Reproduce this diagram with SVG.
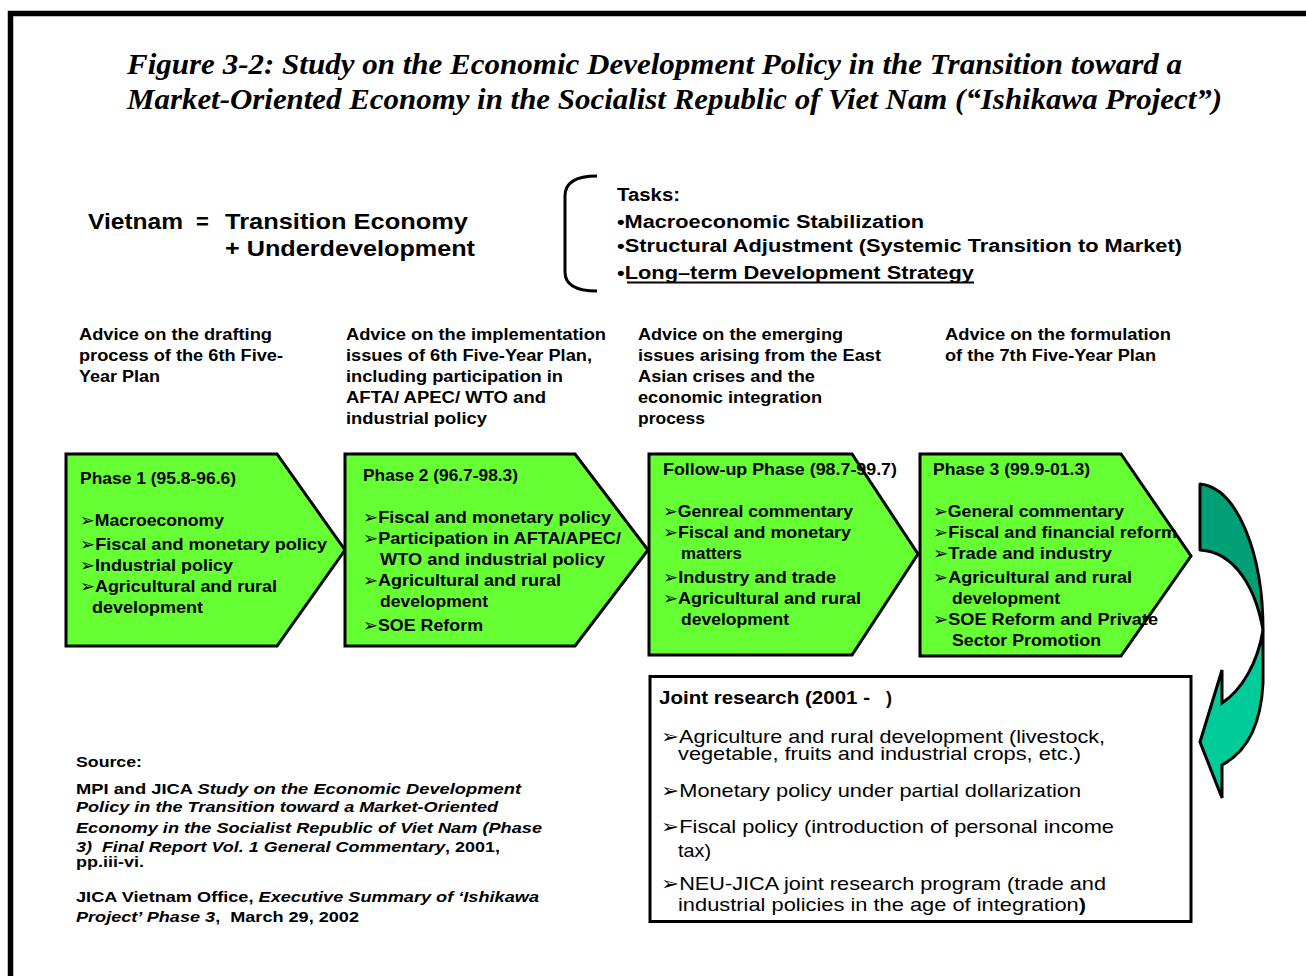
<svg xmlns="http://www.w3.org/2000/svg" width="1306" height="976" viewBox="0 0 1306 976">
<style>
text{font-family:"Liberation Sans",Arial,"DejaVu Sans",sans-serif;fill:#000}
.title{font-family:"Liberation Serif","Times New Roman",serif;font-weight:bold;font-style:italic;font-size:29px}
.b{font-weight:bold}
.adv{font-weight:bold;font-size:16px}
.ph{font-weight:bold;font-size:17px}
.jr{font-size:19px}
.src{font-weight:bold;font-size:15.5px}
.it{font-style:italic}
.phase{fill:#66FF33;stroke:#000;stroke-width:3;stroke-linejoin:miter}
</style>
<rect width="1306" height="976" fill="#fff"/>
<path d="M10.5,976 V13.5 H1306" fill="none" stroke="#000" stroke-width="5.5"/>

<g id="title">
<text class="title" x="127" y="74" textLength="1055" lengthAdjust="spacingAndGlyphs">Figure 3-2: Study on the Economic Development Policy in the Transition toward a</text>
<text class="title" x="127" y="109" textLength="1095" lengthAdjust="spacingAndGlyphs">Market-Oriented Economy in the Socialist Republic of Viet Nam (“Ishikawa Project”)</text>
</g>

<g id="vietnam">
<text class="b" font-size="22" x="88" y="229" textLength="95" lengthAdjust="spacingAndGlyphs">Vietnam</text>
<text class="b" font-size="22" x="196" y="229">=</text>
<text class="b" font-size="22" x="225" y="229" textLength="243" lengthAdjust="spacingAndGlyphs">Transition Economy</text>
<text class="b" font-size="22" x="225" y="256" textLength="250" lengthAdjust="spacingAndGlyphs">+ Underdevelopment</text>
</g>

<g id="tasks">
<path d="M597,176 Q565,176 565,196 V272 Q565,291 597,291" fill="none" stroke="#000" stroke-width="3"/>
<text class="b" font-size="18" x="617" y="201" textLength="63" lengthAdjust="spacingAndGlyphs">Tasks:</text>
<text class="b" font-size="18" x="617" y="228" textLength="307" lengthAdjust="spacingAndGlyphs">•Macroeconomic Stabilization</text>
<text class="b" font-size="18" x="617" y="252" textLength="565" lengthAdjust="spacingAndGlyphs">•Structural Adjustment (Systemic Transition to Market)</text>
<text class="b" font-size="18" x="617" y="279" textLength="357" lengthAdjust="spacingAndGlyphs">•Long–term Development Strategy</text>
<line x1="627" y1="282.5" x2="974" y2="282.5" stroke="#000" stroke-width="2"/>
</g>

<g id="advice1">
<text class="adv" x="79" y="340" textLength="193" lengthAdjust="spacingAndGlyphs">Advice on the drafting</text>
<text class="adv" x="79" y="361" textLength="204" lengthAdjust="spacingAndGlyphs">process of the 6th Five-</text>
<text class="adv" x="79" y="382" textLength="81" lengthAdjust="spacingAndGlyphs">Year Plan</text>
</g>
<g id="advice2">
<text class="adv" x="346" y="340" textLength="260" lengthAdjust="spacingAndGlyphs">Advice on the implementation</text>
<text class="adv" x="346" y="361" textLength="246" lengthAdjust="spacingAndGlyphs">issues of 6th Five-Year Plan,</text>
<text class="adv" x="346" y="382" textLength="217" lengthAdjust="spacingAndGlyphs">including participation in</text>
<text class="adv" x="346" y="403" textLength="200" lengthAdjust="spacingAndGlyphs">AFTA/ APEC/ WTO and</text>
<text class="adv" x="346" y="424" textLength="141" lengthAdjust="spacingAndGlyphs">industrial policy</text>
</g>
<g id="advice3">
<text class="adv" x="638" y="340" textLength="205" lengthAdjust="spacingAndGlyphs">Advice on the emerging</text>
<text class="adv" x="638" y="361" textLength="243" lengthAdjust="spacingAndGlyphs">issues arising from the East</text>
<text class="adv" x="638" y="382" textLength="177" lengthAdjust="spacingAndGlyphs">Asian crises and the</text>
<text class="adv" x="638" y="403" textLength="184" lengthAdjust="spacingAndGlyphs">economic integration</text>
<text class="adv" x="638" y="424" textLength="67" lengthAdjust="spacingAndGlyphs">process</text>
</g>
<g id="advice4">
<text class="adv" x="945" y="340" textLength="226" lengthAdjust="spacingAndGlyphs">Advice on the formulation</text>
<text class="adv" x="945" y="361" textLength="211" lengthAdjust="spacingAndGlyphs">of the 7th Five-Year Plan</text>
</g>

<g id="phase1">
<polygon class="phase" points="66,454 277,454 345,550 277,646 66,646"/>
<text class="ph" x="80" y="484" textLength="156" lengthAdjust="spacingAndGlyphs">Phase 1 (95.8-96.6)</text>
<text class="ph" x="80" y="526" textLength="144" lengthAdjust="spacingAndGlyphs">➢Macroeconomy</text>
<text class="ph" x="80" y="550" textLength="247" lengthAdjust="spacingAndGlyphs">➢Fiscal and monetary policy</text>
<text class="ph" x="80" y="571" textLength="153" lengthAdjust="spacingAndGlyphs">➢Industrial policy</text>
<text class="ph" x="80" y="592" textLength="197" lengthAdjust="spacingAndGlyphs">➢Agricultural and rural</text>
<text class="ph" x="92" y="613" textLength="111" lengthAdjust="spacingAndGlyphs">development</text>
</g>

<g id="phase2">
<polygon class="phase" points="345,454 575,454 648,550 575,646 345,646"/>
<text class="ph" x="363" y="481" textLength="155" lengthAdjust="spacingAndGlyphs">Phase 2 (96.7-98.3)</text>
<text class="ph" x="363" y="523" textLength="248" lengthAdjust="spacingAndGlyphs">➢Fiscal and monetary policy</text>
<text class="ph" x="363" y="544" textLength="258" lengthAdjust="spacingAndGlyphs">➢Participation in AFTA/APEC/</text>
<text class="ph" x="380" y="565" textLength="225" lengthAdjust="spacingAndGlyphs">WTO and industrial policy</text>
<text class="ph" x="363" y="586" textLength="198" lengthAdjust="spacingAndGlyphs">➢Agricultural and rural</text>
<text class="ph" x="380" y="607" textLength="108" lengthAdjust="spacingAndGlyphs">development</text>
<text class="ph" x="363" y="631" textLength="120" lengthAdjust="spacingAndGlyphs">➢SOE Reform</text>
</g>

<g id="followup">
<polygon class="phase" points="649,454 852,454 918,554 852,655 649,655"/>
<text class="ph" x="663" y="475" textLength="234" lengthAdjust="spacingAndGlyphs">Follow-up Phase (98.7-99.7)</text>
<text class="ph" x="663" y="517" textLength="190" lengthAdjust="spacingAndGlyphs">➢Genreal commentary</text>
<text class="ph" x="663" y="538" textLength="188" lengthAdjust="spacingAndGlyphs">➢Fiscal and monetary</text>
<text class="ph" x="681" y="559" textLength="61" lengthAdjust="spacingAndGlyphs">matters</text>
<text class="ph" x="663" y="583" textLength="173" lengthAdjust="spacingAndGlyphs">➢Industry and trade</text>
<text class="ph" x="663" y="604" textLength="198" lengthAdjust="spacingAndGlyphs">➢Agricultural and rural</text>
<text class="ph" x="681" y="625" textLength="108" lengthAdjust="spacingAndGlyphs">development</text>
</g>

<g id="phase3">
<polygon class="phase" points="920,454 1121,454 1191,556 1121,656 920,656"/>
<text class="ph" x="933" y="475" textLength="157" lengthAdjust="spacingAndGlyphs">Phase 3 (99.9-01.3)</text>
<text class="ph" x="933" y="517" textLength="191" lengthAdjust="spacingAndGlyphs">➢General commentary</text>
<text class="ph" x="933" y="538" textLength="244" lengthAdjust="spacingAndGlyphs">➢Fiscal and financial reform</text>
<text class="ph" x="933" y="559" textLength="179" lengthAdjust="spacingAndGlyphs">➢Trade and industry</text>
<text class="ph" x="933" y="583" textLength="199" lengthAdjust="spacingAndGlyphs">➢Agricultural and rural</text>
<text class="ph" x="952" y="604" textLength="108" lengthAdjust="spacingAndGlyphs">development</text>
<text class="ph" x="933" y="625" textLength="225" lengthAdjust="spacingAndGlyphs">➢SOE Reform and Private</text>
<text class="ph" x="952" y="646" textLength="149" lengthAdjust="spacingAndGlyphs">Sector Promotion</text>
</g>

<g id="connectors">
<path d="M1200,484 C1238,488 1263,555 1263,630 C1256,590 1236,552 1200,550 Z" fill="#00A077" stroke="#000" stroke-width="3" stroke-linejoin="round"/>
<path d="M1263,630 L1263,683 Q1260,745 1222,765 L1222,798 L1200,742 L1222,670 L1222,703 C1242,690 1258,662 1263,630 Z" fill="#00CC99" stroke="#000" stroke-width="3" stroke-linejoin="miter"/>
</g>

<g id="joint">
<rect x="650" y="676.5" width="541" height="245" fill="#fff" stroke="#000" stroke-width="3"/>
<text class="b" font-size="18" x="659" y="704" textLength="211" lengthAdjust="spacingAndGlyphs">Joint research (2001 -</text>
<text class="b" font-size="18" x="886" y="704">)</text>
<text class="jr" x="661" y="743" textLength="444" lengthAdjust="spacingAndGlyphs">➢Agriculture and rural development (livestock,</text>
<text class="jr" x="678" y="760" textLength="403" lengthAdjust="spacingAndGlyphs">vegetable, fruits and industrial crops, etc.)</text>
<text class="jr" x="661" y="797" textLength="420" lengthAdjust="spacingAndGlyphs">➢Monetary policy under partial dollarization</text>
<text class="jr" x="661" y="833" textLength="453" lengthAdjust="spacingAndGlyphs">➢Fiscal policy (introduction of personal income</text>
<text class="jr" x="678" y="857" textLength="33" lengthAdjust="spacingAndGlyphs">tax)</text>
<text class="jr" x="661" y="890" textLength="445" lengthAdjust="spacingAndGlyphs">➢NEU-JICA joint research program (trade and</text>
<text class="jr" x="678" y="911" textLength="408" lengthAdjust="spacingAndGlyphs">industrial policies in the age of integration<tspan class="b">)</tspan></text>
</g>

<g id="source">
<text class="src" x="76" y="767" textLength="66" lengthAdjust="spacingAndGlyphs">Source:</text>
<text class="src" x="76" y="794" textLength="445" lengthAdjust="spacingAndGlyphs">MPI and JICA <tspan class="it">Study on the Economic Development</tspan></text>
<text class="src it" x="76" y="812" textLength="422" lengthAdjust="spacingAndGlyphs">Policy in the Transition toward a Market-Oriented</text>
<text class="src it" x="76" y="833" textLength="466" lengthAdjust="spacingAndGlyphs">Economy in the Socialist Republic of Viet Nam (Phase</text>
<text class="src" x="76" y="852" textLength="424" lengthAdjust="spacingAndGlyphs"><tspan class="it">3)&#160; Final Report Vol. 1 General Commentary</tspan>, 2001,</text>
<text class="src" x="76" y="867" textLength="68" lengthAdjust="spacingAndGlyphs">pp.iii-vi.</text>
<text class="src" x="76" y="902" textLength="463" lengthAdjust="spacingAndGlyphs">JICA Vietnam Office, <tspan class="it">Executive Summary of ‘Ishikawa</tspan></text>
<text class="src" x="76" y="922" textLength="283" lengthAdjust="spacingAndGlyphs"><tspan class="it">Project’ Phase 3</tspan>,&#160; March 29, 2002</text>
</g>
</svg>
